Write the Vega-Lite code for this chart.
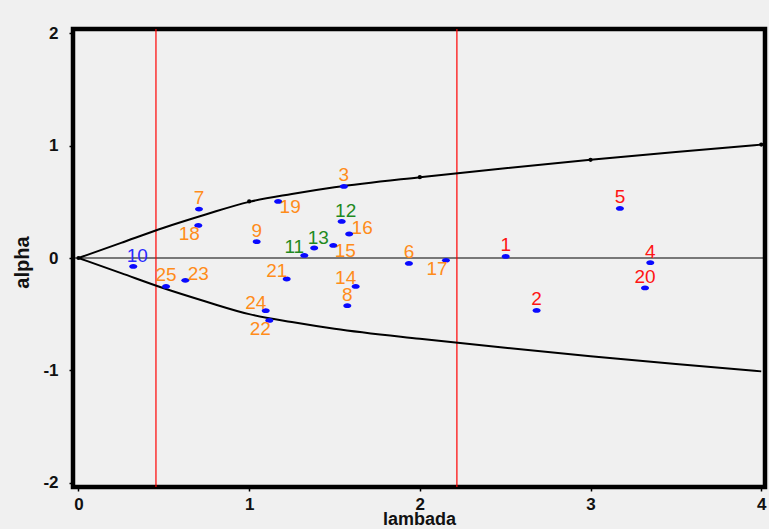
{
  "$schema": "https://vega.github.io/schema/vega-lite/v6.json",
  "autosize": {"type": "none"},
  "padding": {"left": 73, "top": 29, "right": 4, "bottom": 42},
  "width": 692,
  "height": 458,
  "background": "#f0f0f0",
  "config": {
    "view": {"stroke": "#000000", "strokeWidth": 4.5, "fill": "#f0f0f0"},
    "text": {"font": "Liberation Sans", "fontSize": 19}
  },
  "datasets": {
    "pts": [
      {"id": "1", "lambda": 2.503, "alpha": 0.014, "grp": "r", "pos": "A"},
      {"id": "2", "lambda": 2.684, "alpha": -0.467, "grp": "r", "pos": "A"},
      {"id": "3", "lambda": 1.555, "alpha": 0.638, "grp": "o", "pos": "A"},
      {"id": "4", "lambda": 3.35, "alpha": -0.042, "grp": "r", "pos": "A"},
      {"id": "5", "lambda": 3.172, "alpha": 0.442, "grp": "r", "pos": "A"},
      {"id": "6", "lambda": 1.936, "alpha": -0.048, "grp": "o", "pos": "A"},
      {"id": "7", "lambda": 0.706, "alpha": 0.436, "grp": "o", "pos": "A"},
      {"id": "8", "lambda": 1.575, "alpha": -0.425, "grp": "o", "pos": "A"},
      {"id": "9", "lambda": 1.044, "alpha": 0.145, "grp": "o", "pos": "A"},
      {"id": "10", "lambda": 0.321, "alpha": -0.075, "grp": "b", "pos": "C"},
      {"id": "11", "lambda": 1.323, "alpha": 0.023, "grp": "g", "pos": "B"},
      {"id": "12", "lambda": 1.542, "alpha": 0.326, "grp": "g", "pos": "C"},
      {"id": "13", "lambda": 1.381, "alpha": 0.089, "grp": "g", "pos": "C"},
      {"id": "14", "lambda": 1.624, "alpha": -0.253, "grp": "o", "pos": "B"},
      {"id": "15", "lambda": 1.493, "alpha": 0.112, "grp": "o", "pos": "E"},
      {"id": "16", "lambda": 1.586, "alpha": 0.214, "grp": "o", "pos": "D"},
      {"id": "17", "lambda": 2.153, "alpha": -0.021, "grp": "o", "pos": "F"},
      {"id": "18", "lambda": 0.702, "alpha": 0.29, "grp": "o", "pos": "F"},
      {"id": "19", "lambda": 1.17, "alpha": 0.504, "grp": "o", "pos": "E"},
      {"id": "20", "lambda": 3.319, "alpha": -0.267, "grp": "r", "pos": "A"},
      {"id": "21", "lambda": 1.22, "alpha": -0.187, "grp": "o", "pos": "B"},
      {"id": "22", "lambda": 1.118, "alpha": -0.556, "grp": "o", "pos": "F"},
      {"id": "23", "lambda": 0.626, "alpha": -0.199, "grp": "o", "pos": "D"},
      {"id": "24", "lambda": 1.097, "alpha": -0.469, "grp": "o", "pos": "B"},
      {"id": "25", "lambda": 0.513, "alpha": -0.253, "grp": "o", "pos": "A"}
    ],
    "curve": [
      {"lambda": 0, "alpha": 0, "side": "upper"},
      {"lambda": 0.25, "alpha": 0.135, "side": "upper"},
      {"lambda": 0.5, "alpha": 0.27, "side": "upper"},
      {"lambda": 0.75, "alpha": 0.39, "side": "upper"},
      {"lambda": 1, "alpha": 0.5, "side": "upper"},
      {"lambda": 1.25, "alpha": 0.57, "side": "upper"},
      {"lambda": 1.5, "alpha": 0.63, "side": "upper"},
      {"lambda": 2, "alpha": 0.72, "side": "upper"},
      {"lambda": 2.5, "alpha": 0.8, "side": "upper"},
      {"lambda": 3, "alpha": 0.875, "side": "upper"},
      {"lambda": 3.5, "alpha": 0.945, "side": "upper"},
      {"lambda": 4, "alpha": 1.01, "side": "upper"},
      {"lambda": 0, "alpha": 0, "side": "lower"},
      {"lambda": 0.25, "alpha": -0.135, "side": "lower"},
      {"lambda": 0.5, "alpha": -0.27, "side": "lower"},
      {"lambda": 0.75, "alpha": -0.39, "side": "lower"},
      {"lambda": 1, "alpha": -0.5, "side": "lower"},
      {"lambda": 1.25, "alpha": -0.57, "side": "lower"},
      {"lambda": 1.5, "alpha": -0.63, "side": "lower"},
      {"lambda": 2, "alpha": -0.72, "side": "lower"},
      {"lambda": 2.5, "alpha": -0.8, "side": "lower"},
      {"lambda": 3, "alpha": -0.875, "side": "lower"},
      {"lambda": 3.5, "alpha": -0.945, "side": "lower"},
      {"lambda": 4, "alpha": -1.01, "side": "lower"}
    ],
    "knots": [
      {"lambda": 0, "alpha": 0},
      {"lambda": 1, "alpha": 0.504},
      {"lambda": 2, "alpha": 0.72},
      {"lambda": 3, "alpha": 0.875},
      {"lambda": 4, "alpha": 1.01}
    ],
    "vlines": [{"lambda": 0.454}, {"lambda": 2.217}],
    "hline": [{"alpha": 0}]
  },
  "layer": [
    {
      "data": {"name": "hline"},
      "mark": {"type": "rule", "color": "#000000", "strokeWidth": 1.2},
      "encoding": {
        "y": {"field": "alpha", "type": "quantitative",
          "scale": {"domain": [-2.04, 2.04], "nice": false, "zero": false},
          "axis": {
            "values": [-2, -1, 0, 1, 2], "labelExpr": "toString(datum.value)", "title": "alpha", "grid": false, "domain": false,
            "tickSize": 4, "tickColor": "#000000", "tickWidth": 1.5,
            "labelFont": "Liberation Sans", "labelFontSize": 17, "labelFontWeight": "bold", "labelColor": "#111111",
            "labelPadding": 11,
            "titleFont": "Liberation Sans", "titleFontSize": 20, "titleFontWeight": "bold", "titleColor": "#111111",
            "titleX": -41, "titleY": 233, "titleAngle": -90, "titleBaseline": "bottom", "titleAlign": "center"
          }
        }
      }
    },
    {
      "data": {"name": "vlines"},
      "mark": {"type": "rule", "color": "#ff0000", "strokeWidth": 1.2},
      "encoding": {
        "x": {"field": "lambda", "type": "quantitative",
          "scale": {"domain": [-0.032, 4.022], "nice": false, "zero": false},
          "axis": {
            "values": [0, 1, 2, 3, 4], "labelExpr": "toString(datum.value)", "title": "lambada", "grid": false, "domain": false,
            "tickSize": 4, "tickColor": "#000000", "tickWidth": 1.5,
            "labelFont": "Liberation Sans", "labelFontSize": 17, "labelFontWeight": "bold", "labelColor": "#111111",
            "labelPadding": 5, "labelBound": false, "labelOverlap": false,
            "titleFont": "Liberation Sans", "titleFontSize": 18, "titleFontWeight": "bold", "titleColor": "#111111",
            "titleY": 32, "titleBaseline": "middle"
          }
        }
      }
    },
    {
      "data": {"name": "curve"},
      "mark": {"type": "line", "color": "#000000", "strokeWidth": 2, "interpolate": "monotone"},
      "encoding": {
        "x": {"field": "lambda", "type": "quantitative"},
        "y": {"field": "alpha", "type": "quantitative"},
        "detail": {"field": "side"}
      }
    },
    {
      "data": {"name": "knots"},
      "mark": {"type": "point", "shape": "circle", "filled": true, "color": "#000000", "size": 18, "opacity": 1},
      "encoding": {
        "x": {"field": "lambda", "type": "quantitative"},
        "y": {"field": "alpha", "type": "quantitative"}
      }
    },
    {
      "data": {"name": "pts"},
      "mark": {"type": "point", "shape": "M -1 0 A 1 0.6 0 1 1 1 0 A 1 0.6 0 1 1 -1 0 Z", "filled": true, "color": "#0a0aff", "size": 64, "opacity": 1},
      "encoding": {
        "x": {"field": "lambda", "type": "quantitative"},
        "y": {"field": "alpha", "type": "quantitative"}
      }
    },
    {
      "data": {"name": "pts"},
      "transform": [{"filter": "datum.pos === 'A'"}],
      "mark": {"type": "text", "dx": 0, "dy": -11, "align": "center", "baseline": "middle"},
      "encoding": {
        "x": {"field": "lambda", "type": "quantitative"},
        "y": {"field": "alpha", "type": "quantitative"},
        "text": {"field": "id"},
        "color": {"field": "grp", "type": "nominal", "legend": null,
          "scale": {"domain": ["r", "o", "g", "b"], "range": ["#ff1414", "#ff8c1a", "#1f8a1f", "#2a2aff"]}}
      }
    },
    {
      "data": {"name": "pts"},
      "transform": [{"filter": "datum.pos === 'B'"}],
      "mark": {"type": "text", "dx": -10, "dy": -8, "align": "center", "baseline": "middle"},
      "encoding": {
        "x": {"field": "lambda", "type": "quantitative"},
        "y": {"field": "alpha", "type": "quantitative"},
        "text": {"field": "id"},
        "color": {"field": "grp", "type": "nominal", "legend": null}
      }
    },
    {
      "data": {"name": "pts"},
      "transform": [{"filter": "datum.pos === 'C'"}],
      "mark": {"type": "text", "dx": 4, "dy": -10, "align": "center", "baseline": "middle"},
      "encoding": {
        "x": {"field": "lambda", "type": "quantitative"},
        "y": {"field": "alpha", "type": "quantitative"},
        "text": {"field": "id"},
        "color": {"field": "grp", "type": "nominal", "legend": null}
      }
    },
    {
      "data": {"name": "pts"},
      "transform": [{"filter": "datum.pos === 'D'"}],
      "mark": {"type": "text", "dx": 13, "dy": -6, "align": "center", "baseline": "middle"},
      "encoding": {
        "x": {"field": "lambda", "type": "quantitative"},
        "y": {"field": "alpha", "type": "quantitative"},
        "text": {"field": "id"},
        "color": {"field": "grp", "type": "nominal", "legend": null}
      }
    },
    {
      "data": {"name": "pts"},
      "transform": [{"filter": "datum.pos === 'E'"}],
      "mark": {"type": "text", "dx": 12, "dy": 6, "align": "center", "baseline": "middle"},
      "encoding": {
        "x": {"field": "lambda", "type": "quantitative"},
        "y": {"field": "alpha", "type": "quantitative"},
        "text": {"field": "id"},
        "color": {"field": "grp", "type": "nominal", "legend": null}
      }
    },
    {
      "data": {"name": "pts"},
      "transform": [{"filter": "datum.pos === 'F'"}],
      "mark": {"type": "text", "dx": -9, "dy": 9, "align": "center", "baseline": "middle"},
      "encoding": {
        "x": {"field": "lambda", "type": "quantitative"},
        "y": {"field": "alpha", "type": "quantitative"},
        "text": {"field": "id"},
        "color": {"field": "grp", "type": "nominal", "legend": null}
      }
    }
  ]
}
